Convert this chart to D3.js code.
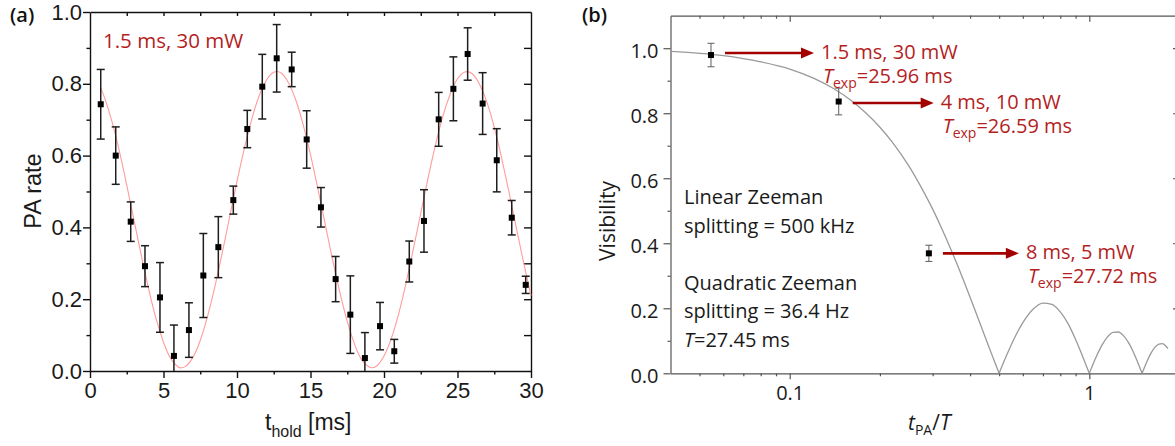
<!DOCTYPE html>
<html>
<head>
<meta charset="utf-8">
<script src="https://cdn.jsdelivr.net/npm/d3@7"></script>
<style>
  body { margin: 0; background: #fff; }
  svg { display: block; }
</style>
</head>
<body>
<div id="chart"></div>
<script>
// ---- panel (a): PA rate vs hold time ----
const holdTimes = [0.73, 1.75, 2.77, 3.74, 4.76, 5.71, 6.73, 7.71, 8.73, 9.75, 10.7, 11.72, 12.7, 13.72, 14.74,
  15.71, 16.71, 17.71, 18.7, 19.73, 20.7, 21.72, 22.72, 23.72, 24.72, 25.69, 26.71, 27.67, 28.69, 29.64];
const paRate = [0.743, 0.600, 0.416, 0.292, 0.205, 0.042, 0.114, 0.266, 0.345, 0.476, 0.674, 0.792, 0.871, 0.840, 0.645,
  0.456, 0.256, 0.157, 0.036, 0.125, 0.055, 0.305, 0.418, 0.701, 0.786, 0.883, 0.745, 0.587, 0.427, 0.240];
const paErr = [0.097, 0.080, 0.055, 0.057, 0.097, 0.086, 0.076, 0.117, 0.085, 0.039, 0.052, 0.090, 0.094, 0.048, 0.080,
  0.055, 0.063, 0.108, 0.071, 0.066, 0.033, 0.057, 0.087, 0.075, 0.089, 0.073, 0.086, 0.088, 0.048, 0.024];

// red fit curve
const fitT = [0.73, 1, 1.5, 2, 2.5, 3, 3.5, 4, 4.5, 5, 5.5, 6, 6.2, 6.5, 7, 7.5, 8, 8.5, 9, 9.5, 10, 10.5, 11, 11.5,
  12, 12.5, 13, 13.5, 14, 14.5, 15, 15.5, 16, 16.5, 17, 17.5, 18, 18.5, 19, 19.2, 19.5, 20, 20.5, 21, 21.5, 22, 22.5,
  23, 23.5, 24, 24.5, 25, 25.5, 26, 26.5, 27, 27.5, 28, 28.5, 29, 29.5, 30];
const fitRate = [0.788, 0.760, 0.694, 0.612, 0.518, 0.419, 0.320, 0.227, 0.145, 0.080, 0.034, 0.011, 0.009, 0.013,
  0.038, 0.085, 0.153, 0.236, 0.330, 0.429, 0.528, 0.620, 0.701, 0.766, 0.810, 0.832, 0.830, 0.803, 0.755, 0.686,
  0.603, 0.508, 0.409, 0.310, 0.219, 0.138, 0.074, 0.030, 0.011, 0.009, 0.014, 0.042, 0.091, 0.160, 0.245, 0.340,
  0.439, 0.538, 0.629, 0.709, 0.771, 0.814, 0.833, 0.828, 0.799, 0.749, 0.679, 0.594, 0.499, 0.399, 0.301, 0.210];

const xTicksA = [0, 5, 10, 15, 20, 25, 30];
const yTicksA = [0, 0.2, 0.4, 0.6, 0.8, 1.0];

// ---- panel (b): visibility vs t_PA/T ----
const tpaRatio = [0.0546, 0.1457, 0.2914];
const visibility = [0.979, 0.836, 0.369];
const visErr = [0.036, 0.041, 0.025];
const pointConditions = ["1.5 ms, 30 mW", "4 ms, 10 mW", "8 ms, 5 mW"];
const pointTexp = ["25.96 ms", "26.59 ms", "27.72 ms"];

// grey theory curve
const theoryX = [0.04, 0.05, 0.06, 0.07, 0.08, 0.1, 0.12, 0.14, 0.16, 0.18, 0.2, 0.22, 0.25, 0.28, 0.3, 0.32, 0.35,
  0.38, 0.4, 0.43, 0.46, 0.48, 0.5, 0.53, 0.56, 0.6, 0.65, 0.7, 0.75, 0.8, 0.85, 0.9, 0.95, 1.0, 1.05, 1.1, 1.15,
  1.2, 1.25, 1.3, 1.35, 1.4, 1.45, 1.5, 1.55, 1.6, 1.65, 1.7, 1.75, 1.8, 1.83];
const theoryV = [0.990, 0.984, 0.977, 0.968, 0.958, 0.936, 0.908, 0.876, 0.840, 0.800, 0.757, 0.711, 0.637, 0.558,
  0.505, 0.450, 0.368, 0.287, 0.234, 0.158, 0.086, 0.042, 0, 0.056, 0.105, 0.156, 0.198, 0.216, 0.212, 0.189, 0.152,
  0.104, 0.052, 0, 0.047, 0.085, 0.112, 0.126, 0.127, 0.116, 0.095, 0.067, 0.034, 0, 0.032, 0.059, 0.078, 0.089,
  0.091, 0.084, 0.076];

const xTicksB = [0.1, 1];
const yTicksB = [0, 0.2, 0.4, 0.6, 0.8, 1.0];
const infoLines = ["Linear Zeeman", "splitting = 500 kHz", "", "Quadratic Zeeman", "splitting = 36.4 Hz"];

const W = 1175, H = 446;
const RED_TEXT = '#b41e1e', RED_ARROW = '#a30000';
const SEGOE = "'Open Sans', 'Noto Sans', sans-serif";
const ARIAL = "'Liberation Sans', Arial, sans-serif";

const svg = d3.select('#chart').append('svg')
  .attr('width', W)
  .attr('height', H)
  .style('background', '#fff');

function styleAxis(g, color, width, font, size) {
  g.attr('font-family', font).attr('font-size', size);
  g.select('.domain').attr('stroke', color).attr('stroke-width', width);
  g.selectAll('.tick line').attr('stroke', color).attr('stroke-width', width);
  g.selectAll('.tick text').attr('fill', '#1a1a1a');
}
function noDomain(g) { g.select('.domain').remove(); }

/* ================= panel (a) ================= */
const xA = d3.scaleLinear().domain([0, 30]).range([90, 531]);
const yA = d3.scaleLinear().domain([0, 1]).range([371, 12]);
const a = svg.append('g');
const minorXA = d3.range(2.5, 30, 5);
const minorYA = [0.1, 0.3, 0.5, 0.7, 0.9];

a.append('g').attr('transform', 'translate(0,371)')
  .call(d3.axisBottom(xA).tickValues(xTicksA).tickSize(7).tickPadding(4.5).tickSizeOuter(0))
  .call(styleAxis, '#111', 1.4, ARIAL, 22);
a.append('g').attr('transform', 'translate(0,371)')
  .call(d3.axisBottom(xA).tickValues(minorXA).tickSize(3.5).tickFormat(''))
  .call(noDomain).call(styleAxis, '#111', 1.4, ARIAL, 22);
a.append('g').attr('transform', 'translate(90,0)')
  .call(d3.axisLeft(yA).tickValues(yTicksA).tickFormat(d3.format('.1f')).tickSize(7).tickPadding(1).tickSizeOuter(0))
  .call(styleAxis, '#111', 1.4, ARIAL, 22);
a.append('g').attr('transform', 'translate(90,0)')
  .call(d3.axisLeft(yA).tickValues(minorYA).tickSize(3.5).tickFormat(''))
  .call(noDomain).call(styleAxis, '#111', 1.4, ARIAL, 22);
// top and right frame, ticks pointing inward
a.append('g').attr('transform', 'translate(0,12)')
  .call(d3.axisBottom(xA).tickValues(d3.range(2.5, 30, 2.5)).tickSize(4).tickFormat('').tickSizeOuter(0))
  .call(styleAxis, '#111', 1.4, ARIAL, 22);
a.append('g').attr('transform', 'translate(531,0)')
  .call(d3.axisLeft(yA).tickValues(d3.range(0.1, 1, 0.1)).tickSize(7).tickFormat('').tickSizeOuter(0))
  .call(styleAxis, '#111', 1.4, ARIAL, 22);

// fit
a.append('path')
  .datum(fitT.map((t, i) => [t, fitRate[i]]))
  .attr('fill', 'none')
  .attr('stroke', '#ff9c9c')
  .attr('stroke-width', 1.1)
  .attr('d', d3.line().x(d => xA(d[0])).y(d => yA(d[1])).curve(d3.curveNatural));

// error bars + squares
const ptsA = holdTimes.map((t, i) => ({ t: t, v: paRate[i], e: paErr[i] }));
const eb = a.append('g').attr('stroke', '#1e1e1e').attr('stroke-width', 1.5);
eb.selectAll('line.v').data(ptsA).enter().append('line')
  .attr('x1', d => xA(d.t)).attr('x2', d => xA(d.t))
  .attr('y1', d => yA(d.v + d.e)).attr('y2', d => yA(Math.max(0, d.v - d.e)));
eb.selectAll('line.top').data(ptsA).enter().append('line')
  .attr('x1', d => xA(d.t) - 4).attr('x2', d => xA(d.t) + 4)
  .attr('y1', d => yA(d.v + d.e)).attr('y2', d => yA(d.v + d.e));
eb.selectAll('line.bot').data(ptsA.filter(d => d.v - d.e > 0)).enter().append('line')
  .attr('x1', d => xA(d.t) - 4).attr('x2', d => xA(d.t) + 4)
  .attr('y1', d => yA(d.v - d.e)).attr('y2', d => yA(d.v - d.e));
a.selectAll('rect.pt').data(ptsA).enter().append('rect')
  .attr('x', d => xA(d.t) - 3).attr('y', d => yA(d.v) - 3)
  .attr('width', 6).attr('height', 6).attr('fill', '#000');

a.append('text')
  .attr('x', 103).attr('y', 48)
  .attr('font-family', SEGOE).attr('font-size', 20.5).attr('fill', RED_TEXT)
  .text(pointConditions[0]);

a.append('text')
  .attr('transform', 'translate(41,191) rotate(-90)')
  .attr('text-anchor', 'middle')
  .attr('font-family', ARIAL).attr('font-size', 23.5).attr('fill', '#1a1a1a')
  .text('PA rate');

const xlabA = a.append('text')
  .attr('x', 265).attr('y', 430)
  .attr('font-family', ARIAL).attr('font-size', 23).attr('fill', '#1a1a1a');
xlabA.append('tspan').text('t');
xlabA.append('tspan').attr('font-size', 16).attr('dy', 7).text('hold');
xlabA.append('tspan').attr('dy', -7).text(' [ms]');

svg.append('text').attr('x', 10).attr('y', 22)
  .attr('font-family', SEGOE).attr('font-size', 20).attr('font-weight', 600).attr('fill', '#111')
  .text('(a)');

/* ================= panel (b) ================= */
const xB = d3.scaleLog().domain([0.04, 2]).range([670.5, 1179.5]);
const yB = d3.scaleLinear().domain([0, 1.1]).range([373.3, 15.7]);
const b = svg.append('g');
const minorXB = xB.ticks().filter(v => !xTicksB.some(m => Math.abs(m - v) < 1e-9) && v > 0.041);
const minorYB = [0.1, 0.3, 0.5, 0.7, 0.9];
const AX = '#555';

b.append('g').attr('transform', 'translate(0,373.3)')
  .call(d3.axisBottom(xB).tickValues(xTicksB).tickFormat(d => String(d)).tickSize(6).tickPadding(7).tickSizeOuter(0))
  .call(styleAxis, AX, 1.2, SEGOE, 20);
b.append('g').attr('transform', 'translate(0,373.3)')
  .call(d3.axisBottom(xB).tickValues(minorXB).tickSize(3).tickFormat(''))
  .call(noDomain).call(styleAxis, AX, 1.2, SEGOE, 20);
b.append('g').attr('transform', 'translate(670.5,0)')
  .call(d3.axisLeft(yB).tickValues(yTicksB).tickFormat(d3.format('.1f')).tickSize(7).tickPadding(5).tickSizeOuter(0))
  .call(styleAxis, AX, 1.2, SEGOE, 20)
  .call(g => g.selectAll('.tick text').attr('dy', '0.45em'));
b.append('g').attr('transform', 'translate(670.5,0)')
  .call(d3.axisLeft(yB).tickValues(minorYB).tickSize(3).tickFormat(''))
  .call(noDomain).call(styleAxis, AX, 1.2, SEGOE, 20);
// top frame
b.append('g').attr('transform', 'translate(0,15.7)')
  .call(d3.axisBottom(xB).tickValues(xTicksB).tickSize(6).tickFormat('').tickSizeOuter(0))
  .call(styleAxis, AX, 1.2, SEGOE, 20);
b.append('g').attr('transform', 'translate(0,15.7)')
  .call(d3.axisBottom(xB).tickValues(minorXB).tickSize(3).tickFormat(''))
  .call(noDomain).call(styleAxis, AX, 1.2, SEGOE, 20);
// right frame (mostly outside the window)
b.append('g').attr('transform', 'translate(1179.5,0)')
  .call(d3.axisLeft(yB).tickValues(yTicksB.slice(1)).tickSize(6.5).tickFormat('').tickSizeOuter(0))
  .call(styleAxis, AX, 1.2, SEGOE, 20);

// theory curve, split at the zeros so the cusps stay sharp
const segs = [];
let cur = [];
theoryX.forEach((x, i) => {
  cur.push([x, theoryV[i]]);
  if (theoryV[i] === 0 && cur.length > 1) { segs.push(cur); cur = [[x, 0]]; }
});
if (cur.length > 1) segs.push(cur);
const theoryLine = d3.line().x(d => xB(d[0])).y(d => yB(d[1])).curve(d3.curveMonotoneX);
b.selectAll('path.theory').data(segs).enter().append('path')
  .attr('fill', 'none').attr('stroke', '#9a9a9a').attr('stroke-width', 1.3)
  .attr('d', theoryLine);

const ptsB = tpaRatio.map((x, i) => ({ x: x, v: visibility[i], e: visErr[i] }));
const ebB = b.append('g').attr('stroke', '#6a6a6a').attr('stroke-width', 1.1);
ebB.selectAll('line.v').data(ptsB).enter().append('line')
  .attr('x1', d => xB(d.x)).attr('x2', d => xB(d.x))
  .attr('y1', d => yB(d.v + d.e)).attr('y2', d => yB(d.v - d.e));
ebB.selectAll('line.t').data(ptsB).enter().append('line')
  .attr('x1', d => xB(d.x) - 3.5).attr('x2', d => xB(d.x) + 3.5)
  .attr('y1', d => yB(d.v + d.e)).attr('y2', d => yB(d.v + d.e));
ebB.selectAll('line.b').data(ptsB).enter().append('line')
  .attr('x1', d => xB(d.x) - 3.5).attr('x2', d => xB(d.x) + 3.5)
  .attr('y1', d => yB(d.v - d.e)).attr('y2', d => yB(d.v - d.e));
b.selectAll('rect.pt').data(ptsB).enter().append('rect')
  .attr('x', d => xB(d.x) - 3).attr('y', d => yB(d.v) - 3)
  .attr('width', 6).attr('height', 6).attr('fill', '#000');

// arrows and labels (both label lines in one text element)
const arrowLen = [89, 81, 76];
const arrowDy = [-2, 1.5, 0];
ptsB.forEach((d, i) => {
  const x0 = xB(d.x) + 14, y0 = yB(d.v) + arrowDy[i], x1 = x0 + arrowLen[i];
  b.append('line').attr('x1', x0).attr('x2', x1 - 10).attr('y1', y0).attr('y2', y0)
    .attr('stroke', RED_ARROW).attr('stroke-width', 2.6);
  b.append('path')
    .attr('d', `M${x1},${y0} L${x1 - 13},${y0 - 5.5} L${x1 - 13},${y0 + 5.5} Z`)
    .attr('fill', RED_ARROW);
  const t = b.append('text')
    .attr('font-family', SEGOE).attr('font-size', 20).attr('fill', RED_TEXT)
    .attr('x', x1 + 7).attr('y', y0 + 5.5);
  t.append('tspan').text(pointConditions[i]);
  t.append('tspan').attr('x', x1 + 9).attr('dy', 24).attr('font-style', 'italic').text('T');
  t.append('tspan').attr('font-size', 14).attr('dy', 5).text('exp');
  t.append('tspan').attr('dy', -5).text('=' + pointTexp[i]);
});

const info = b.append('g').attr('font-family', SEGOE).attr('font-size', 20).attr('fill', '#1a1a1a');
infoLines.forEach((s, i) => {
  if (s) info.append('text').attr('x', 684).attr('y', 204 + i * 28.6).text(s);
});
const tLine = info.append('text').attr('x', 684).attr('y', 204 + 5 * 28.6);
tLine.append('tspan').attr('font-style', 'italic').text('T');
tLine.append('tspan').text('=27.45 ms');

b.append('text')
  .attr('transform', 'translate(615,221) rotate(-90)')
  .attr('text-anchor', 'middle')
  .attr('font-family', SEGOE).attr('font-size', 21).attr('fill', '#1a1a1a')
  .text('Visibility');

const xlabB = b.append('text').attr('x', 908).attr('y', 430)
  .attr('font-family', SEGOE).attr('font-size', 21).attr('fill', '#1a1a1a');
xlabB.append('tspan').attr('font-style', 'italic').text('t');
xlabB.append('tspan').attr('font-size', 14).attr('dy', 5).text('PA');
xlabB.append('tspan').attr('dy', -5).text('/');
xlabB.append('tspan').attr('font-style', 'italic').text('T');

svg.append('text').attr('x', 582).attr('y', 22)
  .attr('font-family', SEGOE).attr('font-size', 20).attr('font-weight', 600).attr('fill', '#111')
  .text('(b)');
</script>
</body>
</html>
